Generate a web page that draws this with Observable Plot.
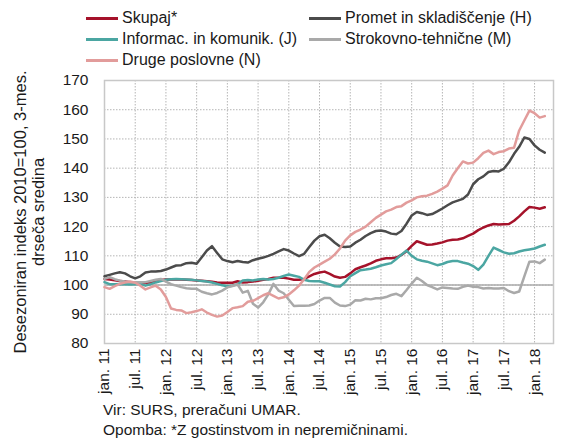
<!DOCTYPE html>
<html><head><meta charset="utf-8">
<script src="https://cdn.jsdelivr.net/npm/d3@7"></script>
<script src="https://cdn.jsdelivr.net/npm/@observablehq/plot@0.6"></script>
<style>
body{margin:0;width:562px;height:445px;position:relative;font-family:"Liberation Sans",Arial,sans-serif;background:#fff;overflow:hidden;color:#1a1a1a}
#legend{position:absolute;left:0;top:0;width:562px;height:70px}
.item{position:absolute;display:flex;align-items:center;font-size:16px;line-height:18px;white-space:nowrap}
.sw{width:32px;height:3px;margin-right:4px}
#chart{position:absolute;left:0;top:70px}
#caption{position:absolute;left:103px;top:400px;font-size:15.5px;line-height:20px;white-space:nowrap}
</style></head><body>
<div id="legend"></div><div id="chart"></div><div id="caption"></div>
<script>
const seriesNames = ["Skupaj*", "Promet in skladiščenje (H)", "Informac. in komunik. (J)", "Strokovno-tehnične (M)", "Druge poslovne (N)"];
const seriesColors = ["#a5122a", "#4b4b4b", "#4ba6a2", "#a9a9a9", "#e29c9b"];
const tickLabels = ["jan. 11","jul. 11","jan. 12","jul. 12","jan. 13","jul. 13","jan. 14","jul. 14","jan. 15","jul. 15","jan. 16","jul. 16","jan. 17","jul. 17","jan. 18"];
const yTicks = [80, 90, 100, 110, 120, 130, 140, 150, 160, 170];
const yLabel = "Desezoniran indeks 2010=100, 3-mes.\ndrseča sredina";
const captionLines = ["Vir: SURS, preračuni UMAR.", "Opomba: *Z gostinstvom in nepremičninami."];

// monthly values, jan. 2011 – mar. 2018
const skupaj = [102.1,101.9,101.6,101.4,101.2,101.0,100.9,100.8,100.8,100.9,101.3,101.7,
  101.9,101.9,101.9,101.9,101.8,101.7,101.6,101.5,101.3,101.1,100.9,100.8,
  100.8,100.8,101.3,100.9,101.0,101.2,101.5,101.8,102.1,102.5,102.5,102.5,
  102.2,101.8,101.8,102.1,103.0,103.8,104.3,104.6,103.8,102.9,102.5,102.8,
  104.0,105.4,106.1,106.7,107.4,108.3,108.8,109.2,109.2,109.4,110.3,111.6,
  113.4,115.0,114.4,113.8,113.9,114.2,114.6,115.2,115.5,115.6,116.0,116.8,
  117.6,118.8,119.7,120.4,120.9,120.7,120.8,120.9,122.0,123.5,125.2,126.7,
  126.5,126.1,126.6];
const promet = [103.0,103.5,104.0,104.4,104.0,103.0,102.3,103.0,104.3,104.6,104.6,104.8,
  105.3,106.0,106.7,106.8,107.5,107.6,107.3,109.5,111.8,113.3,111.0,108.8,
  108.2,107.8,108.2,107.9,107.7,108.5,109.0,109.4,110.0,110.7,111.5,112.3,
  111.8,110.8,109.9,110.7,113.0,115.2,116.7,117.2,116.0,114.5,113.2,113.0,
  113.2,114.5,115.5,116.8,117.8,118.5,118.7,118.3,117.6,117.4,118.5,121.0,
  123.8,125.0,124.6,124.0,124.3,125.2,126.2,127.3,128.3,128.9,129.5,131.0,
  134.5,136.2,137.2,138.7,139.0,138.9,139.8,142.0,144.9,147.3,150.5,150.0,
  147.8,146.3,145.3];
const informac = [101.0,100.3,100.3,100.4,100.3,100.2,100.3,100.4,99.8,100.3,100.9,101.4,
  101.8,102.0,102.1,102.0,101.9,101.8,101.6,101.4,101.2,100.9,100.4,99.9,
  99.6,99.8,100.3,101.6,101.7,101.6,101.9,102.1,101.9,102.1,102.5,103.1,
  103.6,103.2,102.8,101.8,101.4,101.3,101.3,100.8,100.2,99.6,99.5,101.0,
  103.0,104.1,105.1,105.3,105.6,106.1,106.7,107.1,107.5,108.9,110.4,111.8,
  110.0,108.8,108.3,108.0,107.4,106.8,107.2,107.9,108.2,108.2,107.7,107.3,
  106.5,105.2,107.0,110.0,112.8,112.0,111.2,110.7,110.9,111.5,111.9,112.2,
  112.5,113.2,113.8];
const strokovno = [102.1,102.7,102.0,101.5,101.2,101.0,101.0,101.0,101.0,101.4,101.8,102.1,
  101.2,100.3,99.8,99.3,98.9,98.7,98.7,97.7,97.2,96.8,97.3,98.1,
  99.2,99.7,100.2,97.4,98.0,93.6,92.3,94.1,96.8,100.4,98.1,97.2,
  95.0,92.8,92.9,92.9,93.0,93.5,94.7,95.6,95.6,94.0,93.0,92.8,
  93.3,94.8,94.7,95.3,95.1,95.5,95.5,95.9,96.6,97.0,96.2,98.3,
  100.5,102.5,101.4,100.0,99.3,98.5,99.2,99.0,98.8,98.7,99.4,99.8,
  99.4,99.3,98.8,99.0,98.8,98.8,99.0,97.9,97.3,97.8,103.0,108.0,
  108.1,107.5,108.7];
const druge = [99.3,98.7,99.6,100.4,100.9,101.2,100.8,99.8,98.5,99.2,99.8,98.5,
  95.9,92.0,91.5,91.3,90.4,90.7,91.1,91.7,90.6,89.8,89.2,89.6,
  90.8,92.1,92.4,92.8,94.3,94.6,95.5,96.5,97.2,96.3,95.4,95.8,
  96.8,98.2,99.8,102.0,104.5,106.0,107.0,108.0,109.0,110.5,112.5,115.2,
  117.0,118.2,119.0,120.0,121.5,123.0,124.1,125.2,125.8,126.7,127.0,128.2,
  129.0,130.0,130.4,130.6,131.2,132.0,133.0,134.1,137.5,140.0,142.3,141.6,
  141.9,143.4,145.2,146.0,144.8,145.5,145.8,146.7,147.0,152.9,156.3,159.7,
  158.8,157.3,157.8];

const seriesValues = [skupaj, promet, informac, strokovno, druge];
const rows = seriesValues.flatMap((vals, k) => vals.map((v, i) => ({m: i, v, s: seriesNames[k]})));

// legend
const legendPos = [[86,18],[309,18],[86,39],[309,39],[86,60]];
const legend = document.getElementById("legend");
seriesNames.forEach((n, k) => {
  const d = document.createElement("div");
  d.className = "item";
  d.style.left = legendPos[k][0] + "px";
  d.style.top = (legendPos[k][1] - 9) + "px";
  d.innerHTML = `<span class="sw" style="background:${seriesColors[k]}"></span><span>${n}</span>`;
  legend.appendChild(d);
});
document.getElementById("caption").innerHTML = captionLines.map(t => `<div>${t}</div>`).join("");

const xTicks = tickLabels.map((_, i) => i * 6);
const chart = Plot.plot({
  width: 562, height: 330,
  marginTop: 10, marginBottom: 57, marginLeft: 104, marginRight: 9,
  style: {fontFamily: '"Liberation Sans", Arial, sans-serif', fontSize: "15px", color: "#1a1a1a", background: "#fff"},
  x: {domain: [0, 87.7]},
  y: {domain: [80, 170]},
  color: {domain: seriesNames, range: seriesColors},
  marks: [
    Plot.gridX(xTicks.slice(1), {stroke: "#b5b5b5", strokeOpacity: 1, strokeDasharray: "1.5,1.5"}),
    Plot.gridY(yTicks.slice(1, -1), {stroke: "#b5b5b5", strokeOpacity: 1, strokeDasharray: "1.5,1.5"}),
    Plot.ruleY([100], {stroke: "#ababab", strokeWidth: 1.5}),
    Plot.frame({stroke: "#c8c8c8", strokeWidth: 1.5}),
    Plot.axisY(yTicks, {tickSize: 0, tickPadding: 16, label: null, fontSize: 15.5}),
    Plot.axisX(xTicks, {tickSize: 0, tickPadding: 5, tickRotate: -90, label: null, fontSize: 15.5,
      tickFormat: d => tickLabels[d / 6]}),
    Plot.text([yLabel], {frameAnchor: "left", rotate: -90, dx: -75, textAnchor: "middle", lineAnchor: "middle", lineHeight: 1.05, fontSize: 16.5}),
    Plot.line(rows, {x: "m", y: "v", z: "s", stroke: "s", strokeWidth: 2.5, strokeLinejoin: "round"})
  ]
});
document.getElementById("chart").appendChild(chart);
</script>
</body></html>
